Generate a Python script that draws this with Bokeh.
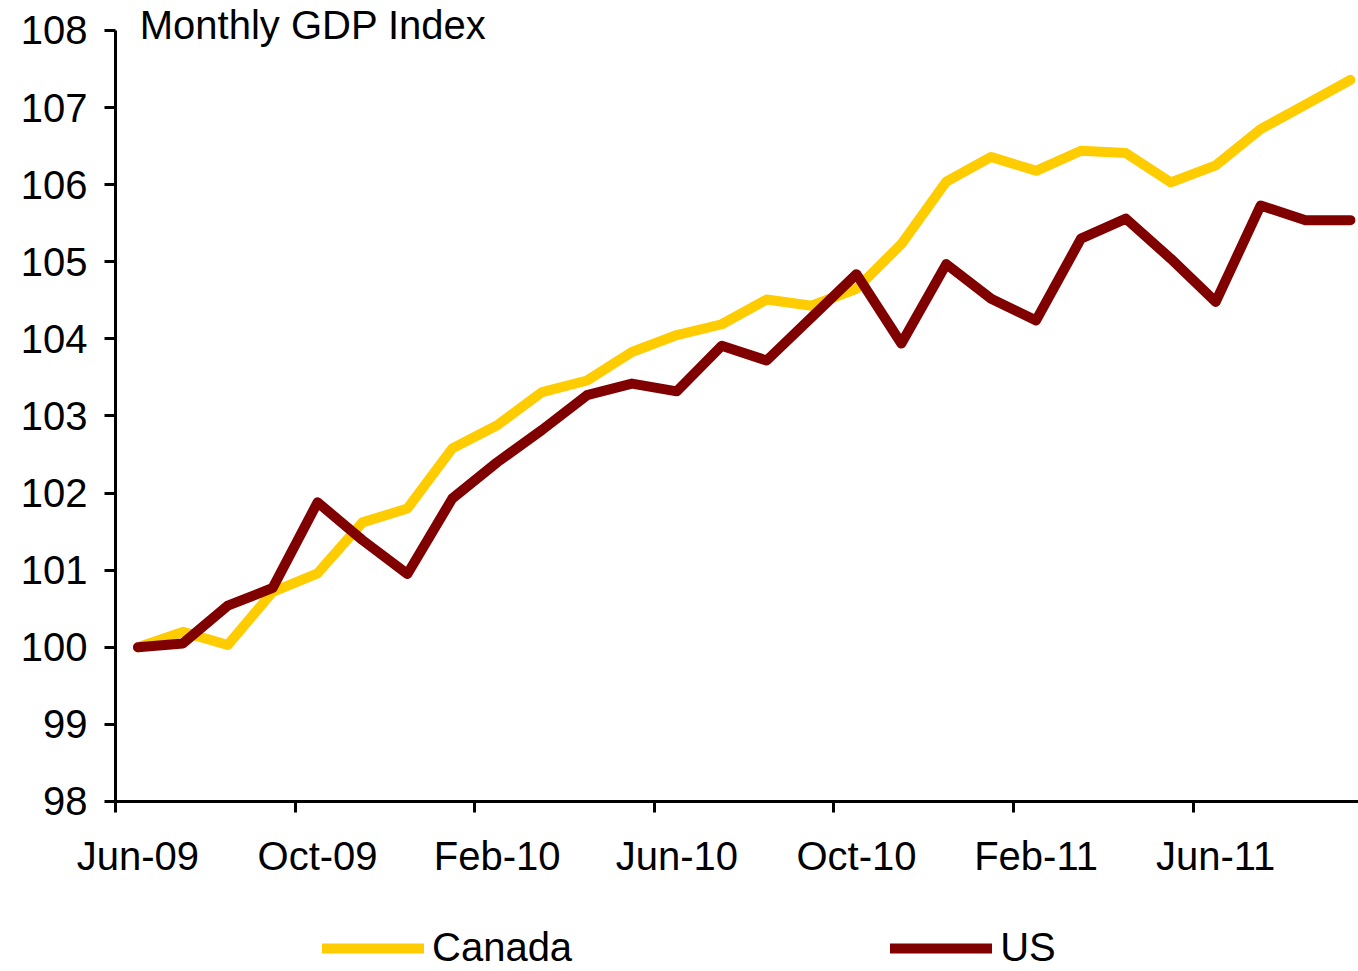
from bokeh.plotting import figure
from bokeh.models import Range1d, FixedTicker, Legend, LegendItem, Label
from bokeh.embed import file_html
from bokeh.resources import INLINE

months = ["Jun-09", "Jul-09", "Aug-09", "Sep-09", "Oct-09", "Nov-09", "Dec-09",
          "Jan-10", "Feb-10", "Mar-10", "Apr-10", "May-10", "Jun-10", "Jul-10",
          "Aug-10", "Sep-10", "Oct-10", "Nov-10", "Dec-10", "Jan-11", "Feb-11",
          "Mar-11", "Apr-11", "May-11", "Jun-11", "Jul-11", "Aug-11", "Sep-11"]
canada = [100.00, 100.20, 100.03, 100.72, 100.96, 101.62, 101.80, 102.58, 102.88,
          103.31, 103.46, 103.83, 104.05, 104.19, 104.51, 104.43, 104.65, 105.23,
          106.04, 106.36, 106.18, 106.44, 106.41, 106.03, 106.25, 106.72, 107.04, 107.36]
us = [100.00, 100.05, 100.54, 100.77, 101.88, 101.39, 100.95, 101.93, 102.40,
      102.82, 103.27, 103.42, 103.32, 103.91, 103.72, 104.28, 104.84, 103.94,
      104.97, 104.52, 104.24, 105.30, 105.56, 105.04, 104.48, 105.73, 105.54, 105.54]
y_ticks = list(range(98, 109))
label_ticks = list(range(0, len(months), 4))
boundary_ticks = [t - 0.5 for t in label_ticks]

FONT = "Liberation Sans"
FS = "40px"

x = list(range(len(months)))

# the frame covers the whole canvas; both axes are pinned to the 98-108 / Jun-09 box
p = figure(width=1358, height=971, output_backend="svg", toolbar_location=None,
           x_range=Range1d(-3.061, 27.18), y_range=Range1d(95.795, 108.389),
           min_border_left=0, min_border_right=0, min_border_top=0,
           min_border_bottom=0)
p.outline_line_color = None
p.xgrid.visible = False
p.ygrid.visible = False
p.background_fill_color = "white"
p.border_fill_color = "white"

r_ca = p.line(x, canada, line_color="#FFCC00", line_width=10,
              line_cap="round", line_join="round")
r_us = p.line(x, us, line_color="#800000", line_width=10,
              line_cap="round", line_join="round")

xa = p.xaxis[0]
xa.fixed_location = 98
xa.bounds = (-0.5, 28)
xa.ticker = FixedTicker(ticks=label_ticks, minor_ticks=boundary_ticks)
xa.major_label_overrides = {t: months[t] for t in label_ticks}
xa.major_tick_out = 0
xa.major_tick_in = 0
xa.minor_tick_out = 11
xa.minor_tick_in = 0
xa.minor_tick_line_width = 3
xa.minor_tick_line_color = "black"
xa.axis_line_width = 3
xa.axis_line_color = "black"
xa.major_label_standoff = 22
xa.major_label_text_font = FONT
xa.major_label_text_font_size = FS
xa.major_label_text_color = "black"

ya = p.yaxis[0]
ya.fixed_location = -0.5
ya.ticker = FixedTicker(ticks=y_ticks)
ya.bounds = (98, 108)
ya.major_tick_out = 11
ya.major_tick_in = 0
ya.minor_tick_out = 0
ya.minor_tick_in = 0
ya.major_tick_line_width = 3
ya.major_tick_line_color = "black"
ya.axis_line_width = 3
ya.axis_line_color = "black"
ya.major_label_standoff = 17
ya.major_label_text_font = FONT
ya.major_label_text_font_size = FS
ya.major_label_text_color = "black"

title = Label(x=0.04, y=108.07, text="Monthly GDP Index", text_font=FONT,
              text_font_size=FS, text_color="black", text_baseline="alphabetic")
p.add_layout(title)

legend = Legend(items=[LegendItem(label="Canada", renderers=[r_ca]),
                       LegendItem(label="US", renderers=[r_us])],
                orientation="horizontal", location=(322, 1),
                glyph_width=102, glyph_height=20, label_standoff=8,
                spacing=318, padding=0, margin=0,
                border_line_color=None, background_fill_alpha=0,
                label_text_font=FONT, label_text_font_size=FS,
                label_text_color="black")
p.add_layout(legend, "center")

open("out.html", "w").write(file_html(p, INLINE))
